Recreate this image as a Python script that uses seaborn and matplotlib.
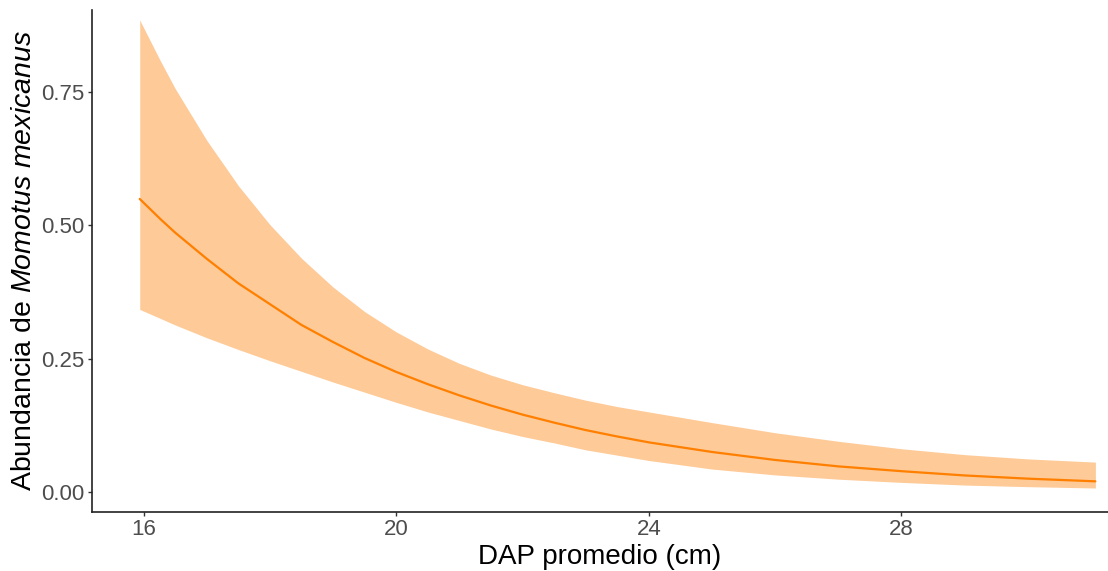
import matplotlib
matplotlib.use("Agg")
import matplotlib.pyplot as plt
import seaborn as sns
import pandas as pd

# Data
dap = [15.94, 16.27, 16.5, 17, 17.5, 18, 18.5, 19, 19.5, 20, 20.5, 21, 21.5, 22,
       22.5, 23, 23.5, 24, 25, 26, 27, 28, 29, 30, 31.07]
abundancia = [0.549, 0.511, 0.486, 0.437, 0.391, 0.352, 0.313, 0.281, 0.251, 0.225,
              0.202, 0.181, 0.162, 0.145, 0.130, 0.116, 0.104, 0.093, 0.075, 0.060,
              0.048, 0.039, 0.031, 0.025, 0.020]
ic_sup = [0.884, 0.807, 0.756, 0.659, 0.574, 0.501, 0.438, 0.384, 0.338, 0.300,
          0.268, 0.241, 0.219, 0.201, 0.186, 0.172, 0.160, 0.150, 0.130, 0.111,
          0.095, 0.081, 0.070, 0.062, 0.056]
ic_inf = [0.342, 0.325, 0.313, 0.289, 0.267, 0.246, 0.226, 0.206, 0.187, 0.168,
          0.150, 0.134, 0.118, 0.104, 0.092, 0.079, 0.069, 0.059, 0.043, 0.032,
          0.024, 0.018, 0.013, 0.010, 0.0075]
y_ticks = [0.00, 0.25, 0.50, 0.75]
y_tick_labels = ["0.00", "0.25", "0.50", "0.75"]
x_ticks = [16, 20, 24, 28]

df = pd.DataFrame({"dap": dap, "abund": abundancia, "sup": ic_sup, "inf": ic_inf})

sns.set_style("white")
plt.rcParams["font.family"] = ["Liberation Sans", "DejaVu Sans"]
plt.rcParams["mathtext.fontset"] = "custom"
plt.rcParams["mathtext.rm"] = "Liberation Sans"
plt.rcParams["mathtext.it"] = "Liberation Sans:italic"

fig = plt.figure(figsize=(11.08, 5.71), dpi=100)
ax = fig.add_axes([0.0828, 0.1033, 0.9172, 0.8792])

ax.fill_between(df["dap"], df["inf"], df["sup"], color="#FECA97", linewidth=0)
sns.lineplot(data=df, x="dap", y="abund", ax=ax, color="#FF7F00", linewidth=1.6)

ax.set_xlim(15.18, 31.27)
ax.set_ylim(-0.0375, 0.903)
ax.set_xticks(x_ticks)
ax.set_xticklabels([str(t) for t in x_ticks])
ax.set_yticks(y_ticks)
ax.set_yticklabels(y_tick_labels)

ax.tick_params(axis="both", which="major", labelsize=16, labelcolor="#4D4D4D",
               color="#333333", length=3, width=1.0, direction="out",
               bottom=True, left=True, pad=2)

for side in ["top", "right"]:
    ax.spines[side].set_visible(False)
for side in ["left", "bottom"]:
    ax.spines[side].set_color("#222222")
    ax.spines[side].set_linewidth(1.2)

ax.set_xlabel("DAP promedio (cm)", fontsize=20, color="black", labelpad=3)
ax.set_ylabel(r"Abundancia de $\mathit{Momotus\ mexicanus}$", fontsize=20.5,
              color="black", labelpad=3)
ax.grid(False)

fig.savefig("out.png", dpi=100)
